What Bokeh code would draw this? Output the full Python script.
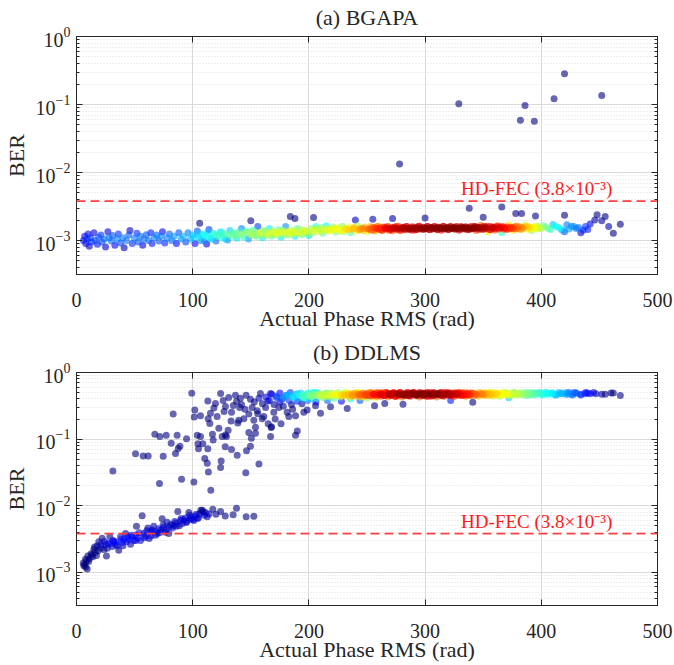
import numpy as np
from bokeh.plotting import figure
from bokeh.layouts import column
from bokeh.models import (ColumnDataSource, Span, Label, FixedTicker, LogTicker,
                          LinearAxis, LogAxis, CustomJSTickFormatter, LinearColorMapper)
from bokeh.transform import transform
from bokeh.embed import file_html
from bokeh.resources import INLINE

FONT = "Liberation Serif"
FEC = 3.8e-3

# ---------------- (a) BGAPA ----------------
phase_a_1 = [6,7,8,9,10,11,12,13,15,16,18,19,21,22,24,25,27,28,30,31,33,35,36,38,40,41,43,45,46,48,50,52,53,55,57,58,60,62,64,65,67,69,71,73,74,76,78,80,82,84,86,88,90]
ber_a_1 = [1.0e-3,1.15e-3,0.9e-3,1.05e-3,1.25e-3,0.82e-3,1.1e-3,0.95e-3,1.3e-3,1.0e-3,0.88e-3,1.12e-3,1.2e-3,0.95e-3,1.05e-3,0.8e-3,1.35e-3,1.1e-3,0.98e-3,1.18e-3,0.85e-3,1.05e-3,1.25e-3,0.92e-3,1.1e-3,0.78e-3,1.0e-3,1.2e-3,1.4e-3,0.9e-3,1.08e-3,1.28e-3,0.95e-3,1.15e-3,0.85e-3,1.05e-3,1.22e-3,1.0e-3,1.3e-3,0.9e-3,1.1e-3,1.2e-3,0.98e-3,1.15e-3,1.35e-3,0.92e-3,1.08e-3,1.25e-3,1.0e-3,1.15e-3,0.9e-3,1.3e-3,1.05e-3]
phase_a_2 = [92,94,96,98,100,102,104,106,108,110,112,114,116,118,120,122,124,126,128,130,132,134,136,138,140,142,144,146,148,150,152,154,156,158,160,162,164,166,168,170,172,174,176,178,180,182,184,186,188,190,192,194,196,198,200]
ber_a_2 = [1.15e-3,0.95e-3,1.3e-3,1.05e-3,1.2e-3,0.9e-3,1.38e-3,1.1e-3,1.25e-3,1.0e-3,1.15e-3,1.45e-3,1.05e-3,1.28e-3,0.98e-3,1.2e-3,1.35e-3,1.1e-3,1.25e-3,1.02e-3,1.4e-3,1.15e-3,1.3e-3,1.08e-3,1.22e-3,1.5e-3,1.12e-3,1.32e-3,1.05e-3,1.25e-3,1.42e-3,1.18e-3,1.6e-3,1.28e-3,1.1e-3,1.38e-3,1.22e-3,1.5e-3,1.15e-3,1.32e-3,1.25e-3,1.45e-3,1.12e-3,1.35e-3,1.6e-3,1.2e-3,1.4e-3,1.28e-3,1.15e-3,1.5e-3,1.3e-3,1.22e-3,1.42e-3,1.35e-3,1.18e-3]
phase_a_3 = [202,203,205,206,208,209,211,212,214,215,217,218,220,221,223,224,226,227,229,230,232,233,235,236,238,239,241,242,244,245,247,248,250,251,253,254,256,257,259,260,262,263,265,266,268,269,271,272,274,275,277,278,280,281,283,284,286,287,289,290,292,293,295,296,298,299,301,302,304,305,307,308,310,311,313,314,316,317,319,320,322,323,325,326,328,329,331,332,334,335,337,338]
ber_a_3 = [1.5e-3,1.3e-3,1.42e-3,1.6e-3,1.35e-3,1.48e-3,1.55e-3,1.28e-3,1.45e-3,1.65e-3,
           1.38e-3,1.5e-3,1.42e-3,1.58e-3,1.32e-3,1.47e-3,1.55e-3,1.4e-3,1.62e-3,1.35e-3,
           1.5e-3,1.44e-3,1.58e-3,1.3e-3,1.48e-3,1.55e-3,1.38e-3,1.65e-3,1.45e-3,1.52e-3,
           1.4e-3,1.58e-3,1.35e-3,1.48e-3,1.6e-3,1.42e-3,1.55e-3,1.38e-3,1.5e-3,1.62e-3,
           1.45e-3,1.4e-3,1.55e-3,1.48e-3,1.6e-3,1.42e-3,1.52e-3,1.38e-3,1.56e-3,1.46e-3,
           1.62e-3,1.4e-3,1.5e-3,1.55e-3,1.44e-3,1.6e-3,1.48e-3,1.52e-3,1.42e-3,1.58e-3,
           1.5e-3,1.45e-3,1.62e-3,1.52e-3,1.46e-3,1.56e-3,1.5e-3,1.6e-3,1.44e-3,1.55e-3,
           1.5e-3,1.62e-3,1.46e-3,1.56e-3,1.52e-3,1.42e-3,1.6e-3,1.5e-3,1.55e-3,1.45e-3,
           1.62e-3,1.52e-3,1.48e-3,1.58e-3,1.5e-3,1.42e-3,1.6e-3,1.54e-3,1.48e-3,1.58e-3,
           1.52e-3,1.45e-3]
phase_a_4 = [340,342,344,346,348,350,352,354,356,358,360,362,364,366,368,370,372,374,376,378,380,383,386,389,392,395,398]
ber_a_4 = [1.5e-3,1.62e-3,1.4e-3,1.55e-3,1.68e-3,1.45e-3,1.58e-3,1.35e-3,1.6e-3,1.5e-3,1.42e-3,1.65e-3,1.55e-3,1.3e-3,1.58e-3,1.48e-3,1.7e-3,1.52e-3,1.4e-3,1.62e-3,1.55e-3,1.45e-3,1.68e-3,1.58e-3,1.4e-3,1.62e-3,1.5e-3]
phase_a_5 = [402,406,410,414,418,420,422,426,430,434,438,440,442,446,448,452,455,458,462,468]
ber_a_5 = [1.65e-3,1.5e-3,1.72e-3,1.58e-3,1.42e-3,1.35e-3,1.7e-3,1.62e-3,1.5e-3,1.3e-3,1.6e-3,1.45e-3,1.75e-3,2.0e-3,2.4e-3,1.95e-3,2.25e-3,1.6e-3,1.28e-3,1.74e-3]
phase_a_6 = [106,112,150,184,188,204,240,255,272,300,338,366,378,383,395,350,420]
ber_a_6 = [1.79e-3,0.89e-3,1.95e-3,2.26e-3,2.1e-3,2.17e-3,2.0e-3,2.05e-3,2.1e-3,2.15e-3,2.98e-3,3.1e-3,2.5e-3,2.5e-3,2.3e-3,2.2e-3,2.35e-3]
phase_a_7 = [151,153,155,157,159,161,163,165,167,169,171,173,175,177,179,181,183,185,187,189,191,193,195,197,199]
ber_a_7 = [1.2e-3,1.35e-3,1.15e-3,1.3e-3,1.22e-3,1.4e-3,1.18e-3,1.3e-3,1.25e-3,1.38e-3,1.2e-3,1.32e-3,1.28e-3,1.42e-3,1.22e-3,1.35e-3,1.3e-3,1.25e-3,1.4e-3,1.32e-3,1.28e-3,1.45e-3,1.3e-3,1.38e-3,1.25e-3]
phase_a_8 = [203,207,211,215,219,223,227,231,235,239,243,247]
ber_a_8 = [1.4e-3,1.5e-3,1.36e-3,1.46e-3,1.42e-3,1.52e-3,1.38e-3,1.48e-3,1.45e-3,1.52e-3,1.44e-3,1.5e-3]
phase_a_9 = [252.5,254,255.5,257,258.5,260,261.5,263,264.5,266,
             267.5,269,270.5,272,273.5,275,276.5,278,279.5,281,
             282.5,284,285.5,287,288.5,290,291.5,293,294.5,296,
             297.5,299,300.5,302,303.5,305,306.5,308,309.5,311,
             312.5,314,315.5,317,318.5,320,321.5,323,324.5,326,
             327.5,329,330.5,332,333.5,335,336.5,338,339.5,341,
             342.5,344]
ber_a_9 = [1.46e-3,1.54e-3,1.42e-3,1.52e-3,1.6e-3,1.46e-3,1.54e-3,1.4e-3,1.58e-3,1.5e-3,
           1.58e-3,1.5e-3,1.44e-3,1.55e-3,1.5e-3,1.62e-3,1.47e-3,1.53e-3,1.41e-3,1.57e-3,
           1.49e-3,1.6e-3,1.52e-3,1.45e-3,1.58e-3,1.5e-3,1.43e-3,1.56e-3,1.62e-3,1.48e-3,
           1.54e-3,1.46e-3,1.5e-3,1.6e-3,1.45e-3,1.55e-3,1.48e-3,1.58e-3,1.52e-3,1.44e-3,
           1.56e-3,1.5e-3,1.62e-3,1.47e-3,1.53e-3,1.45e-3,1.58e-3,1.5e-3,1.55e-3,1.48e-3,
           1.6e-3,1.52e-3,1.46e-3,1.56e-3,1.5e-3,1.58e-3,1.44e-3,1.54e-3,1.6e-3,1.49e-3,
           1.55e-3,1.52e-3]
phase_a_10 = [345.5,348,350.5,353,355.5,358,360.5,363,365.5,368,370.5,373,375.5,378,381]
ber_a_10 = [1.55e-3,1.48e-3,1.6e-3,1.52e-3,1.45e-3,1.58e-3,1.5e-3,1.62e-3,1.54e-3,1.46e-3,1.58e-3,1.5e-3,1.56e-3,1.48e-3,1.6e-3]
phase_a_11 = [101,104,107,110,113,116,119,122,125,128,131,134,137,140,143,146,149]
ber_a_11 = [1.1e-3,1.25e-3,1.0e-3,1.18e-3,1.32e-3,1.08e-3,1.22e-3,1.15e-3,1.3e-3,1.05e-3,1.2e-3,1.28e-3,1.18e-3,1.35e-3,1.25e-3,1.38e-3,1.3e-3]
phase_a_12 = [384,388,391,394,397,400,404,408,412,416,424,428,432,436]
ber_a_12 = [1.52e-3,1.6e-3,1.45e-3,1.56e-3,1.62e-3,1.5e-3,1.58e-3,1.45e-3,1.62e-3,1.52e-3,1.48e-3,1.6e-3,1.55e-3,1.42e-3]
phase_a_13 = [341,343.5,346,348.5,351,353.5,356,358.5,361,363.5,366,368.5,371,373.5,376,378.5,381,383.5,386,388.5,391,393.5,396,398.5]
ber_a_13 = [1.52e-3,1.6e-3,1.46e-3,1.56e-3,1.5e-3,1.62e-3,1.44e-3,1.55e-3,1.58e-3,1.48e-3,1.6e-3,1.52e-3,1.45e-3,1.57e-3,1.5e-3,1.62e-3,1.48e-3,1.55e-3,1.6e-3,1.46e-3,1.58e-3,1.52e-3,1.5e-3,1.56e-3]
phase_a_out = [278,329,382,386,394,411,420,452]
ber_a_out = [0.0133,0.103,0.0587,0.097,0.0567,0.121,0.283,0.1355]

# ---------------- (b) DDLMS ----------------
phase_b_1 = [5.8,6.3,7.7,8.6,9.2,9.7,11,12.5,14,14.9,16,17.2,17.8,19.2,20.7,22.1,23.5,25,25.8,27,28.7,30.7,32,33.6,35,36.4,37.9,39.5,41,42.2,43.5,45,46.5,48,49.5,50.8,51.6,53,55.1,56.5,57.9,59.5,61.4,62.5,63.7,65,66.5,68,69.4,70.8,72.3,73.7,75,76.5,78,79.4,81,82.5,83.7,85.5,87.2,88.5,89.5,91,92.5,93.8,95,96.7,98,99,101,102.5,104,106.1,107,108.2,110,112.5,114,117.3,120,124,128,134.8,137.7,146,152.6]
ber_b_1 = [1.37e-3,1.25e-3,1.56e-3,1.48e-3,1.12e-3,1.75e-3,1.6e-3,1.9e-3,1.7e-3,2.19e-3,2.0e-3,1.79e-3,2.5e-3,2.88e-3,2.31e-3,3.24e-3,2.2e-3,2.58e-3,1.75e-3,2.7e-3,3.41e-3,2.44e-3,2.9e-3,2.88e-3,2.5e-3,2.13e-3,3.41e-3,2.8e-3,3.1e-3,3.82e-3,2.9e-3,3.13e-3,2.64e-3,3.4e-3,3.0e-3,3.61e-3,4.89e-3,3.3e-3,2.99e-3,7.07e-3,3.82e-3,3.5e-3,4.62e-3,3.2e-3,4.04e-3,4.3e-3,4.89e-3,3.6e-3,3.82e-3,4.5e-3,4.27e-3,6.33e-3,4.7e-3,4.0e-3,5.65e-3,3.82e-3,5.2e-3,4.6e-3,5.05e-3,5.5e-3,8.16e-3,5.0e-3,5.97e-3,5.4e-3,6.1e-3,6.55e-3,5.8e-3,7.88e-3,6.3e-3,6.67e-3,5.97e-3,7.0e-3,6.4e-3,7.62e-3,8.5e-3,8.55e-3,7.2e-3,6.83e-3,7.5e-3,8.85e-3,7.4e-3,8.2e-3,7.0e-3,7.3e-3,9.1e-3,6.8e-3,6.9e-3]
phase_b_2 = [7,8,10.5,13,15.5,18.5,21,24,26.5,29.5,31.5,34,38.5,40,44,47,51,54,58.5,60.5,64,67,71.5,74.5,77,80,84.5,86,90,94.5,97.5,100,103,105,109,111]
ber_b_2 = [1.3e-3,1.2e-3,1.45e-3,1.8e-3,2.4e-3,2.1e-3,2.6e-3,2.9e-3,2.3e-3,2.7e-3,3.0e-3,2.6e-3,3.1e-3,2.5e-3,3.4e-3,3.6e-3,3.0e-3,3.9e-3,3.3e-3,4.2e-3,3.5e-3,4.1e-3,3.9e-3,5.1e-3,4.4e-3,4.8e-3,5.8e-3,4.9e-3,6.4e-3,5.6e-3,7.2e-3,6.2e-3,7.4e-3,6.6e-3,8.0e-3,7.9e-3]
phase_b_3 = [31.3,50.8,57.4,61.7,74.6,67.4,71.7,77.2,86.6,94.7,81.5,89,85.2,87.5,83.2,99.2,71.4,90.4,101,115.6,103.9,106.7,104.5,108.7,105,113,110.4,112.5,124.5,124,113.5,145.7,157,138.3,133.4,128,117.6,117,125.4,129,149.7,146.3,150.5,154,148.3,167,167.5,188.5,190]
ber_b_3 = [0.033,0.06,0.0559,0.0559,0.055,0.118,0.109,0.114,0.114,0.101,0.0865,0.078,0.0609,0.072,0.237,0.489,0.0216,0.025,0.0226,0.017,0.114,0.109,0.085,0.085,0.0714,0.0714,0.051,0.0432,0.047,0.0374,0.0319,0.0312,0.0422,0.057,0.0698,0.0764,0.0966,0.118,0.109,0.109,0.078,0.0668,0.103,0.122,0.125,0.109,0.149,0.114,0.132]
phase_b_4 = [113,124,119.6,126.2,128.2,118.2,115.3,121,113.3,106.7,101.8,101.3,114.7,122.5,128.2,130.5,133.4,137.7,136.8,146,140.5,139.7,133,138.8,144,148.3,151.2,149.7,158.3,161.2,155.5,162.7,152.6,159.8,167,164.6,167.8,169.8,174.1,177,181.3,182.7,188.5,195.6,198.5,205.7,210,218.6,233,256.5,265.3]
ber_b_4 = [0.373,0.483,0.342,0.38,0.309,0.292,0.244,0.218,0.202,0.225,0.273,0.214,0.171,0.145,0.115,0.136,0.253,0.366,0.456,0.456,0.299,0.191,0.187,0.175,0.202,0.239,0.299,0.395,0.483,0.218,0.267,0.299,0.191,0.202,0.483,0.373,0.153,0.253,0.299,0.395,0.253,0.218,0.225,0.253,0.273,0.316,0.244,0.305,0.289,0.316,0.342]
phase_b_5 = [142,145,153,157,160,163,166,170,172,175,178,180,183,185,187,190,192,194,196,199,131,127,135,141,156,171,165,154,176,186,202,206,212,216,222,228,236,244,250,281,322,341,372]
ber_b_5 = [0.33,0.28,0.36,0.41,0.34,0.43,0.38,0.33,0.42,0.36,0.31,0.45,0.38,0.33,0.42,0.37,0.45,0.34,0.41,0.38,0.42,0.26,0.32,0.41,0.24,0.2,0.17,0.15,0.17,0.28,0.4,0.36,0.42,0.38,0.41,0.37,0.4,0.38,0.41,0.334,0.38,0.357,0.418]
phase_b_6 = [168,172,175,178,181,184,186,189,191,193,195,197,199,201,203,205,207,209,211,213,215,217,219,221,223,225,227,229,231,233,235,237,239,241,243,245,247,249,251,253,254,256,257,259,260,262,263,265,266,268,269,271,272,274,275,277,278,280,281,283,284,286,287,289,290,292,293,295,296,298,299,301,302,304,305,307,308,310,311,313,314,316,317,319,320,322,323,325,326,328,329,331,332,334,335,337,338,340,342,344,346,348,350,352,354,356,358,361,364,367,370,373,376,379,382,385,389,393,397,401,405,409,413,418,423,428,434,440,447,455,462,468]
ber_b_6 = [0.47,0.44,0.49,0.42,0.46,0.5,0.43,0.47,0.4,0.49,0.45,0.42,0.48,0.44,0.5,0.46,0.41,0.48,0.45,0.43,
           0.49,0.46,0.42,0.48,0.45,0.5,0.43,0.47,0.45,0.49,0.42,0.46,0.48,0.44,0.5,0.46,0.43,0.48,0.45,0.49,
           0.44,0.47,0.42,0.5,0.46,0.44,0.48,0.45,0.5,0.43,0.47,0.45,0.49,0.44,0.48,0.46,0.5,0.43,0.47,0.45,
           0.49,0.46,0.44,0.48,0.5,0.45,0.47,0.43,0.49,0.46,0.48,0.44,0.5,0.46,0.48,0.45,0.49,0.43,0.47,0.46,
           0.5,0.44,0.48,0.46,0.49,0.45,0.47,0.44,0.49,0.46,0.48,0.45,0.5,0.46,0.44,0.48,0.46,0.49,0.45,0.47,
           0.44,0.49,0.46,0.48,0.45,0.5,0.46,0.48,0.44,0.49,0.47,0.45,0.5,0.47,0.49,0.46,0.5,0.47,0.49,0.46,
           0.5,0.48,0.46,0.49,0.47,0.5,0.47,0.49,0.48,0.47,0.49,0.45]
phase_b_7 = [230.5,232.5,234.5,236.5,238.5,240.5,242.5,244.5,246.5,248.5,
             250.5,252.5,254.5,256.5,258.5,260.5,262.5,264.5,266.5,268.5,
             270.5,272.5,274.5,276.5,278.5,280.5,282.5,284.5,286.5,288.5,
             290.5,292.5,294.5,296.5,298.5,300.5,302.5,304.5,306.5,308.5,
             310.5,312.5,314.5,316.5,318.5,320.5,322.5,324.5,326.5,328.5,
             330.5,332.5,334.5,336.5,338.5,340.5,342.5,344.5,346.5,348.5]
ber_b_7 = [0.46,0.49,0.44,0.48,0.45,0.5,0.47,0.43,0.49,0.46,
           0.48,0.45,0.5,0.46,0.44,0.49,0.47,0.45,0.5,0.48,
           0.46,0.49,0.44,0.48,0.5,0.46,0.47,0.45,0.49,0.48,
           0.5,0.46,0.48,0.45,0.49,0.47,0.44,0.5,0.46,0.48,
           0.47,0.49,0.45,0.5,0.48,0.46,0.49,0.44,0.47,0.5,
           0.48,0.46,0.5,0.47,0.45,0.49,0.48,0.46,0.5,0.47]
phase_b_8 = [261.2,263.2,265.2,267.2,269.2,271.2,273.2,275.2,277.2,279.2,
             281.2,283.2,285.2,287.2,289.2,291.2,293.2,295.2,297.2,299.2,
             301.2,303.2,305.2,307.2,309.2,311.2,313.2,315.2,317.2,319.2,
             321.2,323.2,325.2,327.2,329.2,331.2,333.2,335.2,337.2,339.2]
ber_b_8 = [0.47,0.5,0.45,0.49,0.46,0.48,0.5,0.44,0.47,0.49,
           0.46,0.48,0.5,0.45,0.49,0.47,0.46,0.5,0.48,0.45,
           0.49,0.47,0.44,0.5,0.46,0.48,0.49,0.45,0.47,0.5,
           0.48,0.46,0.49,0.47,0.5,0.45,0.48,0.46,0.49,0.47]
phase_b_9 = [183,190,196,201,205,209,213,216,219,222,225,228,231,234,237,240,243,246,249,252,255,258]
ber_b_9 = [0.45,0.48,0.43,0.47,0.5,0.45,0.48,0.44,0.49,0.46,0.48,0.45,0.5,0.47,0.44,0.49,0.46,0.48,0.45,0.5,0.47,0.49]
phase_b_10 = [349.5,351,352.5,354,355.5,357,358.5,360,361.5,363,
              365,366.5,368,369.5,371,372.5,374,375.5,377,378.5,
              380,382,384,386,388,390,392.5,395,397.5,400,
              403,406,409,412,415,418,421,424,427,430,
              438,445,452,460]
ber_b_10 = [0.47,0.5,0.45,0.49,0.46,0.48,0.44,0.5,0.47,0.45,
            0.49,0.46,0.48,0.5,0.45,0.47,0.49,0.46,0.5,0.48,
            0.46,0.49,0.47,0.5,0.45,0.48,0.5,0.46,0.49,0.47,
            0.5,0.47,0.49,0.46,0.5,0.48,0.47,0.5,0.46,0.49,
            0.48,0.5,0.47,0.49]
phase_b_11 = [196,199,202,204.5,207,209.5,212,214.5]
ber_b_11 = [0.46,0.49,0.44,0.48,0.5,0.45,0.47,0.49]
phase_b_12 = [356.5,362.5,368.5,374.5,380.5,387,391,395,399,404,410,416,422,426,430,434,438,442]
ber_b_12 = [0.5,0.49,0.5,0.46,0.47,0.48,0.46,0.49,0.5,0.47,0.49,0.48,0.5,0.47,0.49,0.46,0.5,0.48]

X_TICKS = [0, 100, 200, 300, 400, 500]


def jet(n=256):
    t = np.linspace(0, 1, n)
    r = np.clip(1.5 - np.abs(4 * t - 3), 0, 1)
    g = np.clip(1.5 - np.abs(4 * t - 2), 0, 1)
    b = np.clip(1.5 - np.abs(4 * t - 1), 0, 1)
    return ["#%02x%02x%02x" % (int(255 * a), int(255 * c), int(255 * d)) for a, c, d in zip(r, g, b)]


JET = jet()


def gather(pairs):
    xs, ys = [], []
    for i, (a, b) in enumerate(pairs):
        if len(a) != len(b):
            raise ValueError("length mismatch in group %d: %d vs %d" % (i, len(a), len(b)))
        xs += list(a)
        ys += list(b)
    return np.array(xs, float), np.array(ys, float)


def density(xs, ys, sx=22.0, sy=4.0):
    px = xs * 581.0 / 500.0
    py = np.log10(ys) * 68.7
    dx = (px[:, None] - px[None, :]) / sx
    dy = (py[:, None] - py[None, :]) / sy
    return np.exp(-0.5 * (dx * dx + dy * dy)).sum(axis=1)


def make_fig(title, xs, ys, height, top, bottom, title_gap, lo_frac):
    p = figure(width=674, height=height, y_axis_type="log",
               x_range=(0, 500), y_range=(10 ** -3.5, 1),
               output_backend="svg", toolbar_location=None,
               min_border_left=76, min_border_right=17,
               min_border_top=top, min_border_bottom=bottom)
    p.title.text = title
    p.title.align = "center"
    p.title.vertical_align = "top"
    p.title.text_font = FONT
    p.title.text_font_size = "22px"
    p.title.text_font_style = "normal"
    p.title.text_color = "#262626"
    p.title.standoff = title_gap
    p.outline_line_color = "#262626"
    p.outline_line_alpha = 1.0
    p.background_fill_color = "white"

    p.xaxis.ticker = FixedTicker(ticks=X_TICKS)
    p.xaxis.axis_label = "Actual Phase RMS (rad)"
    p.yaxis.axis_label = "BER"
    p.yaxis.ticker = LogTicker(num_minor_ticks=10)
    for ax in (p.xaxis, p.yaxis):
        ax.axis_label_text_font = FONT
        ax.axis_label_text_font_style = "normal"
        ax.axis_label_text_color = "#262626"
        ax.axis_label_text_font_size = "22px"
        ax.major_label_text_font = FONT
        ax.major_label_text_font_size = "20px"
        ax.major_label_text_color = "#262626"
        ax.axis_line_color = "#262626"
        ax.major_tick_line_color = "#262626"
        ax.major_tick_in = 6
        ax.major_tick_out = 0
        ax.minor_tick_in = 3
        ax.minor_tick_out = 0
        ax.minor_tick_line_color = "#262626"
    p.xaxis.minor_tick_line_color = None
    p.xaxis.major_label_standoff = 18
    p.xaxis.axis_label_standoff = -4
    p.yaxis.major_label_standoff = 6
    p.yaxis.axis_label_standoff = 4

    blank = CustomJSTickFormatter(code="return ''")
    top_ax = LinearAxis(ticker=FixedTicker(ticks=X_TICKS), formatter=blank,
                        major_tick_in=6, major_tick_out=0, minor_tick_line_color=None,
                        axis_line_color="#262626", major_tick_line_color="#262626",
                        major_label_standoff=0)
    right_ax = LogAxis(ticker=LogTicker(num_minor_ticks=10), formatter=blank,
                       major_tick_in=6, major_tick_out=0, minor_tick_in=3, minor_tick_out=0,
                       axis_line_color="#262626", major_tick_line_color="#262626",
                       minor_tick_line_color="#262626", major_label_standoff=0)
    p.add_layout(top_ax, "above")
    p.add_layout(right_ax, "right")

    p.xgrid.grid_line_color = "#dadada"
    p.ygrid.grid_line_color = "#dadada"
    p.ygrid.minor_grid_line_color = "#dedede"
    p.ygrid.minor_grid_line_dash = "1 2"

    dens = density(xs, ys)
    order = np.argsort(dens)
    src = ColumnDataSource(dict(x=xs[order], y=ys[order], d=dens[order]))
    mapper = LinearColorMapper(palette=JET, low=lo_frac * dens.max(), high=dens.max())
    p.scatter("x", "y", source=src, size=7, fill_color=transform("d", mapper),
              line_color=None, fill_alpha=0.6)

    p.add_layout(Span(location=FEC, dimension="width", line_color="#ff4040",
                      line_dash="9 5", line_width=1.8))
    p.add_layout(Label(x=396, y=5.8e-3, text="HD-FEC (3.8×10⁻³)", text_align="center",
                       text_baseline="alphabetic",
                       text_font=FONT, text_font_size="19px", text_color="#ff1a1a"))
    return p


xa, ya = gather([(phase_a_1, ber_a_1), (phase_a_2, ber_a_2), (phase_a_3, ber_a_3),
                 (phase_a_4, ber_a_4), (phase_a_5, ber_a_5), (phase_a_6, ber_a_6),
                 (phase_a_7, ber_a_7), (phase_a_8, ber_a_8), (phase_a_9, ber_a_9),
                 (phase_a_10, ber_a_10), (phase_a_11, ber_a_11), (phase_a_12, ber_a_12),
                 (phase_a_13, ber_a_13), (phase_a_out, ber_a_out)])
xb, yb = gather([(phase_b_1, ber_b_1), (phase_b_2, ber_b_2), (phase_b_3, ber_b_3),
                 (phase_b_4, ber_b_4), (phase_b_5, ber_b_5), (phase_b_6, ber_b_6),
                 (phase_b_7, ber_b_7), (phase_b_8, ber_b_8), (phase_b_9, ber_b_9),
                 (phase_b_10, ber_b_10), (phase_b_11, ber_b_11), (phase_b_12, ber_b_12)])

p1 = make_fig("(a) BGAPA", xa, ya, 333, 33, 59, 9, 0.06)
p2 = make_fig("(b) DDLMS", xb, yb, 331, 34, 57, 12, 0.19)

layout = column(p1, p2, spacing=0)
open("out.html", "w").write(file_html(layout, INLINE))
